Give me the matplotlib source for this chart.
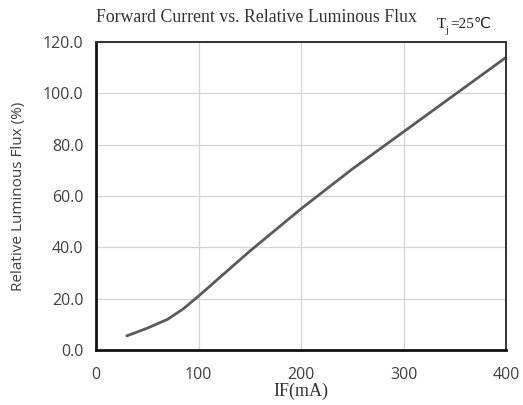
import matplotlib
matplotlib.use("Agg")
import matplotlib.pyplot as plt

current_ma = [30, 50, 70, 85, 100, 150, 200, 250, 300, 350, 400]
rel_flux = [5.5, 8.5, 12.0, 16.0, 21.0, 38.5, 55.0, 70.5, 85.0, 99.5, 114.0]
x_ticks = [0, 100, 200, 300, 400]
y_ticks = [0, 20, 40, 60, 80, 100, 120]
y_tick_labels = ["0.0", "20.0", "40.0", "60.0", "80.0", "100.0", "120.0"]

fig = plt.figure(figsize=(5.23, 4.05), dpi=100)
ax = fig.add_axes([0.1836, 0.1358, 0.7839, 0.7605])

ax.plot(current_ma, rel_flux, color="#5a5a5a", lw=2.0, solid_capstyle="round")
ax.set_xlim(0, 400)
ax.set_ylim(0, 120)
ax.set_xticks(x_ticks)
ax.set_yticks(y_ticks)
ax.set_yticklabels(y_tick_labels)
ax.grid(True, color="#d4d4d4", lw=0.9)
ax.tick_params(axis="x", length=0, pad=12, labelsize=11.5, colors="#404040")
ax.tick_params(axis="y", length=0, pad=9, labelsize=11.5, colors="#404040")
for lab in ax.get_xticklabels() + ax.get_yticklabels():
    lab.set_family("Open Sans")
for s in ["left", "bottom"]:
    ax.spines[s].set_color("#111111")
    ax.spines[s].set_linewidth(2.0)
for s in ["top", "right"]:
    ax.spines[s].set_color("#333333")
    ax.spines[s].set_linewidth(1.4)

ax.set_ylabel("Relative Luminous Flux (%)", family="Open Sans", fontsize=11,
              color="#404040", labelpad=12)
ax.set_xlabel("IF(mA)", family="Liberation Serif", fontsize=13, color="#333333", labelpad=0)

fig.text(0.49, 0.958, "Forward Current vs. Relative Luminous Flux", family="Liberation Serif",
         fontsize=12.8, color="#333333", ha="center", va="center")
fig.text(0.836, 0.940, "T", family="Liberation Serif", fontsize=11, color="#222222",
         ha="left", va="center")
fig.text(0.851, 0.925, "j", family="Liberation Serif", fontsize=8, color="#222222",
         ha="left", va="center")
fig.text(0.861, 0.940, "=25℃", family=["Liberation Serif", "DejaVu Sans"], fontsize=11,
         color="#222222", ha="left", va="center")

fig.savefig("out.png", dpi=100)
